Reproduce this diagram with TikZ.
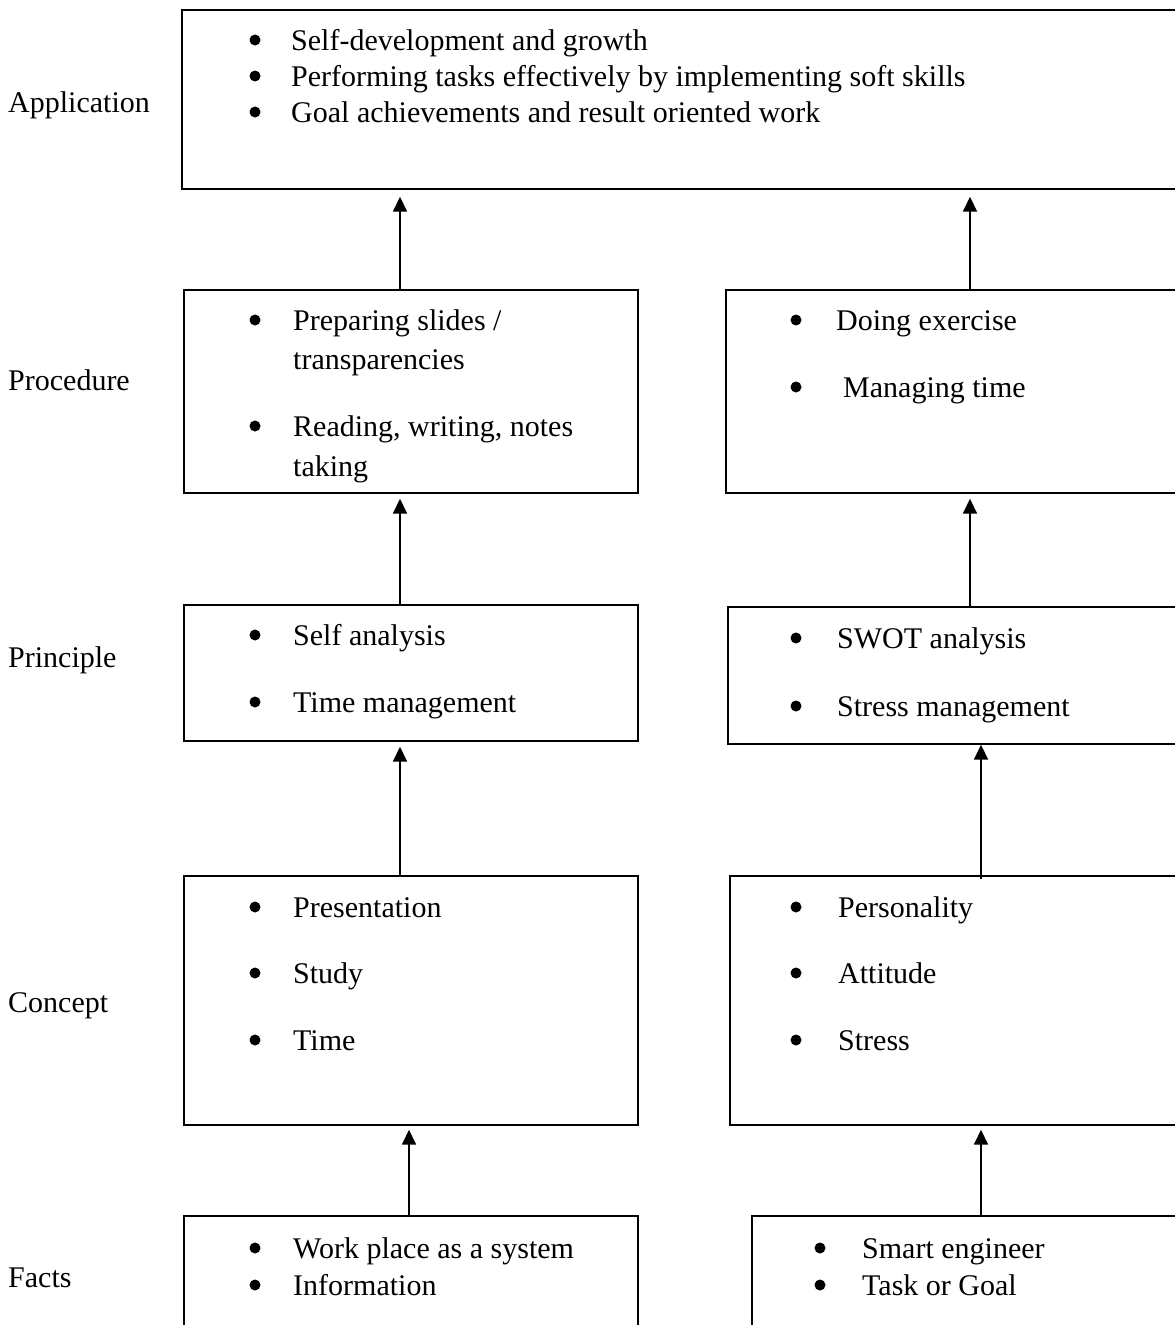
\documentclass[tikz,border=0pt]{standalone}
\usepackage{fontspec}
\setmainfont{Liberation Serif}
\usetikzlibrary{arrows.meta}
\begin{document}
\begin{tikzpicture}[x=1pt,y=1pt,
  box/.style={draw, line width=1.7pt, anchor=north west, inner sep=0pt, minimum height=#1},
  txt/.style={anchor=base west, inner sep=0pt, font=\fontsize{30}{36}\selectfont},
  bul/.style={circle, fill=black, inner sep=0pt, minimum size=11pt},
  arr/.style={line width=1.7pt, -{Triangle[width=14pt,length=15pt]}}]
\useasboundingbox (0,0) rectangle (1175,-1325);
\clip (0,0) rectangle (1175,-1325);
\fill[white] (0,0) rectangle (1175,-1325);

% boxes
\node[box=179, minimum width=1100] (app) at (181,-9) {};
\node[box=203, minimum width=454] (procL) at (183,-289) {};
\node[box=203, minimum width=500] (procR) at (725,-289) {};
\node[box=136, minimum width=454] (prinL) at (183,-604) {};
\node[box=137, minimum width=500] (prinR) at (727,-606) {};
\node[box=249, minimum width=454] (concL) at (183,-875) {};
\node[box=249, minimum width=500] (concR) at (729,-875) {};
\node[box=200, minimum width=454] (factL) at (183,-1215) {};
\node[box=200, minimum width=500] (factR) at (751,-1215) {};

% level labels
\node[txt] (lApp)  at (8,-112)  {Application};
\node[txt] (lProc) at (8,-390)  {Procedure};
\node[txt] (lPrin) at (8,-667)  {Principle};
\node[txt] (lConc) at (8,-1012) {Concept};
\node[txt] (lFact) at (8,-1287) {Facts};

% application
\node[bul] (bA1) at (255,-40) {};
\node[bul] (bA2) at (255,-76) {};
\node[bul] (bA3) at (255,-112) {};
\node[txt] (tA1) at (291,-50)  {Self-development and growth};
\node[txt] (tA2) at (291,-86)  {Performing tasks effectively by implementing soft skills};
\node[txt] (tA3) at (291,-122) {Goal achievements and result oriented work};

% procedure left
\node[bul] (bPL1) at (255,-320) {};
\node[bul] (bPL2) at (255,-426) {};
\node[txt] (tPL1) at (293,-330) {Preparing slides /};
\node[txt] (tPL2) at (293,-369) {transparencies};
\node[txt] (tPL3) at (293,-436) {Reading, writing, notes};
\node[txt] (tPL4) at (293,-476) {taking};

% procedure right
\node[bul] (bPR1) at (796,-320) {};
\node[bul] (bPR2) at (796,-387) {};
\node[txt] (tPR1) at (836,-330) {Doing exercise};
\node[txt] (tPR2) at (843,-397) {Managing time};

% principle left
\node[bul] (bRL1) at (255,-635) {};
\node[bul] (bRL2) at (255,-702) {};
\node[txt] (tRL1) at (293,-645) {Self analysis};
\node[txt] (tRL2) at (293,-712) {Time management};

% principle right
\node[bul] (bRR1) at (796,-638) {};
\node[bul] (bRR2) at (796,-706) {};
\node[txt] (tRR1) at (837,-648) {SWOT analysis};
\node[txt] (tRR2) at (837,-716) {Stress management};

% concept left
\node[bul] (bCL1) at (255,-907) {};
\node[bul] (bCL2) at (255,-973) {};
\node[bul] (bCL3) at (255,-1040) {};
\node[txt] (tCL1) at (293,-917)  {Presentation};
\node[txt] (tCL2) at (293,-983)  {Study};
\node[txt] (tCL3) at (293,-1050) {Time};

% concept right
\node[bul] (bCR1) at (796,-907) {};
\node[bul] (bCR2) at (796,-973) {};
\node[bul] (bCR3) at (796,-1040) {};
\node[txt] (tCR1) at (838,-917)  {Personality};
\node[txt] (tCR2) at (838,-983)  {Attitude};
\node[txt] (tCR3) at (838,-1050) {Stress};

% facts left
\node[bul] (bFL1) at (255,-1248) {};
\node[bul] (bFL2) at (255,-1285) {};
\node[txt] (tFL1) at (293,-1258) {Work place as a system};
\node[txt] (tFL2) at (293,-1295) {Information};

% facts right
\node[bul] (bFR1) at (820,-1248) {};
\node[bul] (bFR2) at (820,-1285) {};
\node[txt] (tFR1) at (862,-1258) {Smart engineer};
\node[txt] (tFR2) at (862,-1295) {Task or Goal};

% connector columns
\coordinate (xL)  at (400,0);
\coordinate (xR)  at (970,0);
\coordinate (xL2) at (409,0);
\coordinate (xR2) at (981,0);

\draw[arr, shorten >=7pt] (procL.north -| xL) -- (app.south -| xL);
\draw[arr, shorten >=7pt] (procR.north -| xR) -- (app.south -| xR);
\draw[arr, shorten >=5pt] (prinL.north -| xL) -- (procL.south -| xL);
\draw[arr, shorten >=5pt] (prinR.north -| xR) -- (procR.south -| xR);
\draw[arr, shorten >=5pt] (concL.north -| xL) -- (prinL.south -| xL);
\draw[arr, shorten <=-4pt] (concR.north -| xR2) -- (prinR.south -| xR2);
\draw[arr, shorten >=4pt] (factL.north -| xL2) -- (concL.south -| xL2);
\draw[arr, shorten >=4pt] (factR.north -| xR2) -- (concR.south -| xR2);
\end{tikzpicture}
\end{document}
